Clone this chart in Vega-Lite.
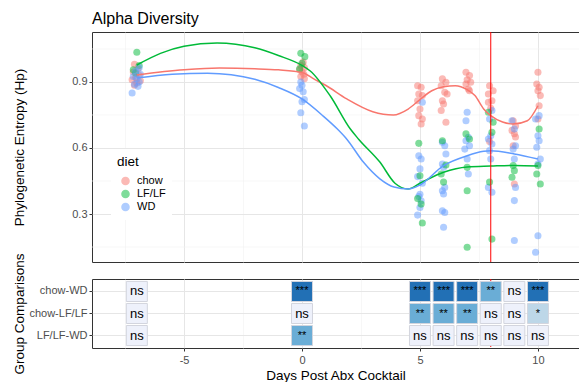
{
  "$schema": "https://vega.github.io/schema/vega-lite/v6.json",
  "padding": {"left": 11, "top": 10, "right": 0, "bottom": 0},
  "bounds": "flush",
  "config": {
    "font": "Liberation Sans",
    "view": {"stroke": "#333333", "strokeWidth": 1},
    "axis": {"labelFont": "Liberation Sans", "labelFontSize": 11, "labelColor": "#4D4D4D", "tickColor": "#333333", "tickSize": 3, "domain": false, "titleFont": "Liberation Sans", "titleFontSize": 13.5, "titleFontWeight": "normal", "titleColor": "#000000", "labelPadding": 2, "zindex": 0},
    "concat": {"spacing": 17}
  },
  "datasets": {
    "points": [
      {"day": -7.1, "hp": 0.98, "diet": "chow"}, {"day": -6.95, "hp": 0.96, "diet": "chow"}, {"day": -7.15, "hp": 0.945, "diet": "chow"}, {"day": -6.9, "hp": 0.93, "diet": "chow"}, {"day": -7.05, "hp": 0.92, "diet": "chow"}, {"day": -7.2, "hp": 0.91, "diet": "chow"}, {"day": -6.85, "hp": 0.905, "diet": "chow"}, {"day": -7.0, "hp": 0.895, "diet": "chow"}, {"day": -7.1, "hp": 0.885, "diet": "chow"},
      {"day": -7.0, "hp": 1.035, "diet": "LF/LF"}, {"day": -6.9, "hp": 0.975, "diet": "LF/LF"}, {"day": -7.15, "hp": 0.955, "diet": "LF/LF"}, {"day": -7.05, "hp": 0.94, "diet": "LF/LF"},
      {"day": -6.9, "hp": 0.965, "diet": "WD"}, {"day": -7.05, "hp": 0.95, "diet": "WD"}, {"day": -6.85, "hp": 0.935, "diet": "WD"}, {"day": -7.15, "hp": 0.925, "diet": "WD"}, {"day": -7.0, "hp": 0.915, "diet": "WD"}, {"day": -6.9, "hp": 0.9, "diet": "WD"}, {"day": -7.1, "hp": 0.89, "diet": "WD"}, {"day": -6.95, "hp": 0.88, "diet": "WD"}, {"day": -7.2, "hp": 0.85, "diet": "WD"},
      {"day": 0.05, "hp": 0.99, "diet": "chow"}, {"day": -0.05, "hp": 0.975, "diet": "chow"}, {"day": 0.1, "hp": 0.965, "diet": "chow"}, {"day": -0.1, "hp": 0.955, "diet": "chow"}, {"day": 0.0, "hp": 0.945, "diet": "chow"}, {"day": 0.08, "hp": 0.935, "diet": "chow"}, {"day": -0.05, "hp": 0.925, "diet": "chow"}, {"day": 0.1, "hp": 0.915, "diet": "chow"},
      {"day": -0.05, "hp": 1.03, "diet": "LF/LF"}, {"day": 0.12, "hp": 1.015, "diet": "LF/LF"}, {"day": 0.0, "hp": 0.985, "diet": "LF/LF"}, {"day": -0.1, "hp": 0.96, "diet": "LF/LF"},
      {"day": -0.05, "hp": 0.9, "diet": "WD"}, {"day": 0.0, "hp": 0.885, "diet": "WD"}, {"day": -0.1, "hp": 0.87, "diet": "WD"}, {"day": 0.05, "hp": 0.855, "diet": "WD"}, {"day": 0.1, "hp": 0.82, "diet": "WD"}, {"day": 0.0, "hp": 0.81, "diet": "WD"}, {"day": -0.05, "hp": 0.76, "diet": "WD"}, {"day": 0.1, "hp": 0.7, "diet": "WD"},
      {"day": 4.9, "hp": 0.883, "diet": "chow"}, {"day": 5.05, "hp": 0.876, "diet": "chow"}, {"day": 4.95, "hp": 0.845, "diet": "chow"}, {"day": 5.1, "hp": 0.838, "diet": "chow"}, {"day": 4.9, "hp": 0.815, "diet": "chow"}, {"day": 5.0, "hp": 0.777, "diet": "chow"}, {"day": 4.95, "hp": 0.747, "diet": "chow"}, {"day": 5.1, "hp": 0.732, "diet": "chow"}, {"day": 5.05, "hp": 0.709, "diet": "chow"},
      {"day": 5.1, "hp": 0.808, "diet": "WD"}, {"day": 4.95, "hp": 0.565, "diet": "WD"}, {"day": 5.05, "hp": 0.55, "diet": "WD"}, {"day": 5.0, "hp": 0.505, "diet": "WD"}, {"day": 4.9, "hp": 0.47, "diet": "WD"}, {"day": 5.1, "hp": 0.44, "diet": "WD"}, {"day": 5.0, "hp": 0.39, "diet": "WD"}, {"day": 4.95, "hp": 0.38, "diet": "WD"}, {"day": 5.05, "hp": 0.36, "diet": "WD"}, {"day": 5.0, "hp": 0.33, "diet": "WD"}, {"day": 4.9, "hp": 0.295, "diet": "WD"},
      {"day": 4.95, "hp": 0.621, "diet": "LF/LF"}, {"day": 5.0, "hp": 0.474, "diet": "LF/LF"}, {"day": 4.9, "hp": 0.37, "diet": "LF/LF"}, {"day": 5.05, "hp": 0.345, "diet": "LF/LF"}, {"day": 5.1, "hp": 0.259, "diet": "LF/LF"},
      {"day": 5.95, "hp": 0.914, "diet": "chow"}, {"day": 6.1, "hp": 0.899, "diet": "chow"}, {"day": 5.9, "hp": 0.883, "diet": "chow"}, {"day": 6.05, "hp": 0.853, "diet": "chow"}, {"day": 6.15, "hp": 0.845, "diet": "chow"}, {"day": 5.95, "hp": 0.815, "diet": "chow"}, {"day": 6.0, "hp": 0.8, "diet": "chow"}, {"day": 5.9, "hp": 0.77, "diet": "chow"}, {"day": 6.1, "hp": 0.717, "diet": "chow"},
      {"day": 5.95, "hp": 0.626, "diet": "WD"}, {"day": 6.05, "hp": 0.61, "diet": "WD"}, {"day": 6.1, "hp": 0.573, "diet": "WD"}, {"day": 5.95, "hp": 0.527, "diet": "WD"}, {"day": 6.0, "hp": 0.512, "diet": "WD"}, {"day": 6.05, "hp": 0.421, "diet": "WD"}, {"day": 5.95, "hp": 0.406, "diet": "WD"}, {"day": 6.0, "hp": 0.391, "diet": "WD"}, {"day": 5.95, "hp": 0.315, "diet": "WD"}, {"day": 6.05, "hp": 0.307, "diet": "WD"}, {"day": 6.0, "hp": 0.24, "diet": "WD"},
      {"day": 5.95, "hp": 0.633, "diet": "LF/LF"}, {"day": 6.1, "hp": 0.523, "diet": "LF/LF"}, {"day": 5.9, "hp": 0.482, "diet": "LF/LF"}, {"day": 6.0, "hp": 0.445, "diet": "LF/LF"},
      {"day": 6.95, "hp": 0.944, "diet": "chow"}, {"day": 7.1, "hp": 0.929, "diet": "chow"}, {"day": 7.0, "hp": 0.91, "diet": "chow"}, {"day": 7.15, "hp": 0.899, "diet": "chow"}, {"day": 6.95, "hp": 0.891, "diet": "chow"}, {"day": 7.05, "hp": 0.868, "diet": "chow"}, {"day": 7.1, "hp": 0.86, "diet": "chow"},
      {"day": 7.0, "hp": 0.762, "diet": "WD"}, {"day": 6.95, "hp": 0.724, "diet": "WD"}, {"day": 7.05, "hp": 0.649, "diet": "WD"}, {"day": 6.95, "hp": 0.633, "diet": "WD"}, {"day": 7.1, "hp": 0.61, "diet": "WD"}, {"day": 6.9, "hp": 0.595, "diet": "WD"}, {"day": 7.0, "hp": 0.55, "diet": "WD"}, {"day": 7.05, "hp": 0.482, "diet": "WD"},
      {"day": 6.95, "hp": 0.664, "diet": "LF/LF"}, {"day": 7.1, "hp": 0.641, "diet": "LF/LF"}, {"day": 7.0, "hp": 0.512, "diet": "LF/LF"}, {"day": 7.0, "hp": 0.406, "diet": "LF/LF"}, {"day": 7.0, "hp": 0.149, "diet": "LF/LF"},
      {"day": 7.95, "hp": 0.883, "diet": "chow"}, {"day": 8.1, "hp": 0.86, "diet": "chow"}, {"day": 7.9, "hp": 0.845, "diet": "chow"}, {"day": 8.05, "hp": 0.815, "diet": "chow"}, {"day": 7.9, "hp": 0.808, "diet": "chow"}, {"day": 8.0, "hp": 0.78, "diet": "chow"}, {"day": 7.95, "hp": 0.63, "diet": "chow"},
      {"day": 8.05, "hp": 0.77, "diet": "WD"}, {"day": 7.95, "hp": 0.732, "diet": "WD"}, {"day": 8.0, "hp": 0.656, "diet": "WD"}, {"day": 7.9, "hp": 0.641, "diet": "WD"}, {"day": 8.05, "hp": 0.618, "diet": "WD"}, {"day": 7.95, "hp": 0.588, "diet": "WD"}, {"day": 8.0, "hp": 0.55, "diet": "WD"}, {"day": 7.9, "hp": 0.421, "diet": "WD"}, {"day": 8.05, "hp": 0.399, "diet": "WD"},
      {"day": 7.9, "hp": 0.762, "diet": "LF/LF"}, {"day": 8.1, "hp": 0.717, "diet": "LF/LF"}, {"day": 8.05, "hp": 0.671, "diet": "LF/LF"}, {"day": 7.95, "hp": 0.445, "diet": "LF/LF"}, {"day": 8.05, "hp": 0.186, "diet": "LF/LF"},
      {"day": 8.95, "hp": 0.724, "diet": "chow"}, {"day": 9.05, "hp": 0.7, "diet": "chow"}, {"day": 8.9, "hp": 0.68, "diet": "chow"}, {"day": 9.0, "hp": 0.665, "diet": "chow"}, {"day": 9.05, "hp": 0.65, "diet": "chow"}, {"day": 8.95, "hp": 0.61, "diet": "chow"}, {"day": 9.0, "hp": 0.436, "diet": "chow"},
      {"day": 8.9, "hp": 0.724, "diet": "WD"}, {"day": 9.0, "hp": 0.686, "diet": "WD"}, {"day": 9.05, "hp": 0.61, "diet": "WD"}, {"day": 8.95, "hp": 0.595, "diet": "WD"}, {"day": 9.0, "hp": 0.55, "diet": "WD"}, {"day": 9.05, "hp": 0.421, "diet": "WD"}, {"day": 9.0, "hp": 0.361, "diet": "WD"}, {"day": 9.0, "hp": 0.18, "diet": "WD"},
      {"day": 8.95, "hp": 0.52, "diet": "LF/LF"}, {"day": 9.0, "hp": 0.497, "diet": "LF/LF"}, {"day": 8.9, "hp": 0.467, "diet": "LF/LF"},
      {"day": 10.0, "hp": 0.944, "diet": "chow"}, {"day": 9.95, "hp": 0.891, "diet": "chow"}, {"day": 10.05, "hp": 0.876, "diet": "chow"}, {"day": 10.0, "hp": 0.86, "diet": "chow"}, {"day": 10.1, "hp": 0.838, "diet": "chow"}, {"day": 10.05, "hp": 0.792, "diet": "chow"}, {"day": 10.0, "hp": 0.732, "diet": "chow"},
      {"day": 10.05, "hp": 0.747, "diet": "WD"}, {"day": 9.9, "hp": 0.732, "diet": "WD"}, {"day": 10.0, "hp": 0.656, "diet": "WD"}, {"day": 10.05, "hp": 0.633, "diet": "WD"}, {"day": 9.95, "hp": 0.603, "diet": "WD"}, {"day": 10.1, "hp": 0.55, "diet": "WD"}, {"day": 10.0, "hp": 0.527, "diet": "WD"}, {"day": 10.0, "hp": 0.201, "diet": "WD"}, {"day": 9.9, "hp": 0.126, "diet": "WD"},
      {"day": 10.05, "hp": 0.686, "diet": "LF/LF"}, {"day": 10.0, "hp": 0.52, "diet": "LF/LF"}, {"day": 9.95, "hp": 0.482, "diet": "LF/LF"}, {"day": 10.1, "hp": 0.436, "diet": "LF/LF"}
    ],
    "smooth": [
      {"day": -7, "hp": 0.932, "diet": "chow"}, {"day": -5, "hp": 0.955, "diet": "chow"}, {"day": -3.5, "hp": 0.963, "diet": "chow"}, {"day": -2, "hp": 0.96, "diet": "chow"}, {"day": -1, "hp": 0.955, "diet": "chow"}, {"day": 0, "hp": 0.943, "diet": "chow"}, {"day": 0.5, "hp": 0.914, "diet": "chow"}, {"day": 1, "hp": 0.885, "diet": "chow"}, {"day": 1.9, "hp": 0.823, "diet": "chow"}, {"day": 3, "hp": 0.765, "diet": "chow"}, {"day": 3.87, "hp": 0.75, "diet": "chow"}, {"day": 4.5, "hp": 0.777, "diet": "chow"}, {"day": 5, "hp": 0.82, "diet": "chow"}, {"day": 5.5, "hp": 0.86, "diet": "chow"}, {"day": 6, "hp": 0.878, "diet": "chow"}, {"day": 6.5, "hp": 0.883, "diet": "chow"}, {"day": 7, "hp": 0.865, "diet": "chow"}, {"day": 7.33, "hp": 0.838, "diet": "chow"}, {"day": 7.7, "hp": 0.777, "diet": "chow"}, {"day": 8, "hp": 0.747, "diet": "chow"}, {"day": 8.5, "hp": 0.718, "diet": "chow"}, {"day": 8.95, "hp": 0.709, "diet": "chow"}, {"day": 9.55, "hp": 0.724, "diet": "chow"}, {"day": 10, "hp": 0.792, "diet": "chow"},
      {"day": -7, "hp": 0.977, "diet": "LF/LF"}, {"day": -6, "hp": 1.03, "diet": "LF/LF"}, {"day": -5, "hp": 1.062, "diet": "LF/LF"}, {"day": -3.6, "hp": 1.077, "diet": "LF/LF"}, {"day": -2, "hp": 1.055, "diet": "LF/LF"}, {"day": -1, "hp": 1.02, "diet": "LF/LF"}, {"day": 0, "hp": 0.975, "diet": "LF/LF"}, {"day": 0.35, "hp": 0.95, "diet": "LF/LF"}, {"day": 1.2, "hp": 0.836, "diet": "LF/LF"}, {"day": 2.05, "hp": 0.686, "diet": "LF/LF"}, {"day": 2.4, "hp": 0.64, "diet": "LF/LF"}, {"day": 3.3, "hp": 0.536, "diet": "LF/LF"}, {"day": 3.94, "hp": 0.44, "diet": "LF/LF"}, {"day": 4.5, "hp": 0.414, "diet": "LF/LF"}, {"day": 5, "hp": 0.44, "diet": "LF/LF"}, {"day": 6, "hp": 0.49, "diet": "LF/LF"}, {"day": 7, "hp": 0.514, "diet": "LF/LF"}, {"day": 8, "hp": 0.518, "diet": "LF/LF"}, {"day": 9, "hp": 0.521, "diet": "LF/LF"}, {"day": 10, "hp": 0.518, "diet": "LF/LF"},
      {"day": -7, "hp": 0.918, "diet": "WD"}, {"day": -5.5, "hp": 0.935, "diet": "WD"}, {"day": -4, "hp": 0.94, "diet": "WD"}, {"day": -3, "hp": 0.933, "diet": "WD"}, {"day": -2, "hp": 0.912, "diet": "WD"}, {"day": -1, "hp": 0.875, "diet": "WD"}, {"day": 0, "hp": 0.823, "diet": "WD"}, {"day": 0.9, "hp": 0.745, "diet": "WD"}, {"day": 1.5, "hp": 0.686, "diet": "WD"}, {"day": 1.9, "hp": 0.64, "diet": "WD"}, {"day": 2.6, "hp": 0.536, "diet": "WD"}, {"day": 3.3, "hp": 0.46, "diet": "WD"}, {"day": 3.9, "hp": 0.423, "diet": "WD"}, {"day": 4.5, "hp": 0.414, "diet": "WD"}, {"day": 5, "hp": 0.432, "diet": "WD"}, {"day": 6, "hp": 0.52, "diet": "WD"}, {"day": 7, "hp": 0.565, "diet": "WD"}, {"day": 7.7, "hp": 0.585, "diet": "WD"}, {"day": 8, "hp": 0.588, "diet": "WD"}, {"day": 9, "hp": 0.573, "diet": "WD"}, {"day": 10, "hp": 0.55, "diet": "WD"}
    ],
    "marker": [{"day": 8}],
    "minorgrid": [{"hp": 0.15}, {"hp": 0.45}, {"hp": 0.75}, {"hp": 1.05}],
    "tests": [
      {"day": -7, "comparison": "chow-WD", "sig": "ns"}, {"day": -7, "comparison": "chow-LF/LF", "sig": "ns"}, {"day": -7, "comparison": "LF/LF-WD", "sig": "ns"},
      {"day": 0, "comparison": "chow-WD", "sig": "***"}, {"day": 0, "comparison": "chow-LF/LF", "sig": "ns"}, {"day": 0, "comparison": "LF/LF-WD", "sig": "**"},
      {"day": 5, "comparison": "chow-WD", "sig": "***"}, {"day": 5, "comparison": "chow-LF/LF", "sig": "**"}, {"day": 5, "comparison": "LF/LF-WD", "sig": "ns"},
      {"day": 6, "comparison": "chow-WD", "sig": "***"}, {"day": 6, "comparison": "chow-LF/LF", "sig": "**"}, {"day": 6, "comparison": "LF/LF-WD", "sig": "ns"},
      {"day": 7, "comparison": "chow-WD", "sig": "***"}, {"day": 7, "comparison": "chow-LF/LF", "sig": "**"}, {"day": 7, "comparison": "LF/LF-WD", "sig": "ns"},
      {"day": 8, "comparison": "chow-WD", "sig": "**"}, {"day": 8, "comparison": "chow-LF/LF", "sig": "ns"}, {"day": 8, "comparison": "LF/LF-WD", "sig": "ns"},
      {"day": 9, "comparison": "chow-WD", "sig": "ns"}, {"day": 9, "comparison": "chow-LF/LF", "sig": "ns"}, {"day": 9, "comparison": "LF/LF-WD", "sig": "ns"},
      {"day": 10, "comparison": "chow-WD", "sig": "***"}, {"day": 10, "comparison": "chow-LF/LF", "sig": "*"}, {"day": 10, "comparison": "LF/LF-WD", "sig": "ns"}
    ]
  },
  "vconcat": [
    {
      "width": 487,
      "height": 230,
      "title": {"text": "Alpha Diversity", "anchor": "start", "frame": "group", "fontSize": 16, "fontWeight": "normal", "color": "#000000", "font": "Liberation Sans", "offset": 5},
      "layer": [
        {
          "data": {"name": "minorgrid"},
          "mark": {"type": "rule", "color": "#F2F2F2", "strokeWidth": 0.6},
          "encoding": {"y": {"field": "hp", "type": "quantitative"}}
        },
        {
          "data": {"name": "points"},
          "mark": {"type": "circle", "size": 50, "opacity": 0.5},
          "encoding": {
            "x": {"field": "day", "type": "quantitative", "scale": {"domain": [-8.9, 11.74], "nice": false, "zero": false},
              "axis": {"values": [-7.5, -5, -2.5, 0, 2.5, 5, 7.5, 10], "labels": false, "ticks": false, "title": null,
                "gridColor": {"condition": {"test": "datum.value % 5 == 0", "value": "#E6E6E6"}, "value": "#F2F2F2"},
                "gridWidth": {"condition": {"test": "datum.value % 5 == 0", "value": 1}, "value": 0.6}}},
            "y": {"field": "hp", "type": "quantitative", "scale": {"domain": [0.082, 1.127], "nice": false, "zero": false},
              "axis": {"values": [0.3, 0.6, 0.9], "format": ".1f", "title": "Phylogenetic Entropy (Hp)", "titleX": -66, "titleY": 115, "grid": true, "gridColor": "#E6E6E6", "gridWidth": 1}},
            "color": {"field": "diet", "type": "nominal", "scale": {"domain": ["chow", "LF/LF", "WD"], "range": ["#F8766D", "#00BA38", "#619CFF"]},
              "legend": {"orient": "none", "legendX": 19, "legendY": 117, "fillColor": "white", "padding": 6, "title": "diet", "titleFontSize": 13.5, "titleFontWeight": "normal", "titleColor": "#000000", "titleFont": "Liberation Sans", "labelFont": "Liberation Sans", "labelFontSize": 11, "labelColor": "#000000", "symbolType": "circle", "symbolSize": 50, "symbolOpacity": 0.5, "symbolOffset": 3, "labelOffset": 6, "rowPadding": -4, "titlePadding": 7}}
          }
        },
        {
          "data": {"name": "smooth"},
          "mark": {"type": "line", "interpolate": "monotone", "strokeWidth": 1.5},
          "encoding": {
            "x": {"field": "day", "type": "quantitative"},
            "y": {"field": "hp", "type": "quantitative"},
            "color": {"field": "diet", "type": "nominal"}
          }
        },
        {
          "data": {"name": "marker"},
          "mark": {"type": "rule", "color": "#FF0000", "strokeWidth": 1},
          "encoding": {"x": {"field": "day", "type": "quantitative"}}
        }
      ]
    },
    {
      "width": 487,
      "height": 69,
      "layer": [
        {
          "data": {"name": "marker"},
          "mark": {"type": "rule", "color": "#FF0000", "strokeWidth": 1, "strokeDash": [4, 4]},
          "encoding": {"x": {"field": "day", "type": "quantitative", "scale": {"domain": [-8.9, 11.74], "nice": false, "zero": false},
              "axis": {"values": [-7.5, -5, -2.5, 0, 2.5, 5, 7.5, 10], "title": "Days Post Abx Cocktail", "titlePadding": 3, "labelPadding": 3,
                "labelExpr": "datum.value % 5 == 0 ? '' + datum.value : ''",
                "tickOpacity": {"condition": {"test": "datum.value % 5 == 0", "value": 1}, "value": 0},
                "gridColor": {"condition": {"test": "datum.value % 5 == 0", "value": "#E6E6E6"}, "value": "#F2F2F2"},
                "gridWidth": {"condition": {"test": "datum.value % 5 == 0", "value": 1}, "value": 0.6}}}}
        },
        {
          "data": {"name": "tests"},
          "mark": {"type": "rect", "width": 21, "stroke": "#D3D5DE", "strokeWidth": 1, "opacity": 1},
          "encoding": {
            "x": {"field": "day", "type": "quantitative"},
            "y": {"field": "comparison", "type": "nominal", "sort": ["chow-WD", "chow-LF/LF", "LF/LF-WD"], "scale": {"paddingInner": 0.09, "paddingOuter": 0.11},
              "axis": {"title": "Group Comparisons", "titleX": -66, "titleY": 34.5, "grid": true, "gridColor": "#E6E6E6", "bandPosition": 0.5}},
            "fill": {"field": "sig", "type": "nominal", "scale": {"domain": ["ns", "*", "**", "***"], "range": ["#EEF1FB", "#BDD7E8", "#6AADD6", "#2270B5"]}, "legend": null}
          }
        },
        {
          "data": {"name": "tests"},
          "mark": {"type": "text", "color": "#000000", "font": "Liberation Sans", "baseline": "middle"},
          "encoding": {
            "x": {"field": "day", "type": "quantitative"},
            "y": {"field": "comparison", "type": "nominal", "sort": ["chow-WD", "chow-LF/LF", "LF/LF-WD"]},
            "text": {"field": "sig", "type": "nominal"},
            "size": {"condition": {"test": "datum.sig == 'ns'", "value": 13}, "value": 11}
          }
        }
      ]
    }
  ]
}
